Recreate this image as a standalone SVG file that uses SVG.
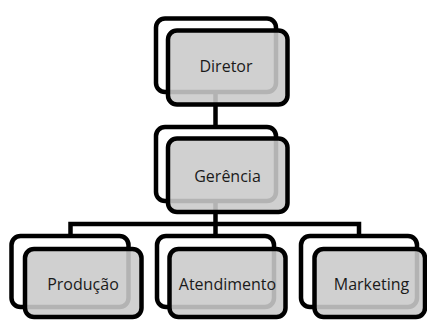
<svg xmlns="http://www.w3.org/2000/svg" width="427" height="320" viewBox="0 0 427 320">
<style>
.back{fill:#ffffff;stroke:#000000;stroke-width:4.5}
.front{fill:#cacaca;fill-opacity:0.886;stroke:#000000;stroke-width:4.5}
.conn{fill:none;stroke:#000000;stroke-width:4.5}
text{font-family:"Open Sans","DejaVu Sans",sans-serif;font-size:16px;fill:#1a1a1a;text-anchor:middle}
</style>
<rect width="427" height="320" fill="#ffffff"/>
<g id="connectors">
<path class="conn" d="M215.5,92 V127"/>
<path class="conn" d="M215.5,201 V224"/>
<path class="conn" d="M70.5,236 V224 H359 V236"/>
<path class="conn" d="M215.5,224 V236"/>
</g>
<g id="node-diretor">
<rect class="back" x="156" y="18.5" width="120" height="73.5" rx="9"/>
<rect class="front" x="168" y="30.5" width="119.5" height="74" rx="9"/>
<text x="226" y="72">Diretor</text>
</g>
<g id="node-gerencia">
<rect class="back" x="156" y="127" width="120" height="74" rx="9"/>
<rect class="front" x="168" y="138.5" width="119.5" height="73.5" rx="9"/>
<text x="227.5" y="181.5">Gerência</text>
</g>
<g id="node-producao">
<rect class="back" x="11.5" y="236" width="117" height="71" rx="9"/>
<rect class="front" x="25" y="249" width="116.5" height="68" rx="9"/>
<text x="83" y="290">Produção</text>
</g>
<g id="node-atendimento">
<rect class="back" x="157" y="236" width="117" height="71" rx="9"/>
<rect class="front" x="169.5" y="249" width="116" height="68" rx="9"/>
<text x="227.5" y="290">Atendimento</text>
</g>
<g id="node-marketing">
<rect class="back" x="301" y="236" width="116" height="71" rx="9"/>
<rect class="front" x="314.5" y="249" width="110.5" height="68" rx="9"/>
<text x="371.5" y="290">Marketing</text>
</g>
</svg>
